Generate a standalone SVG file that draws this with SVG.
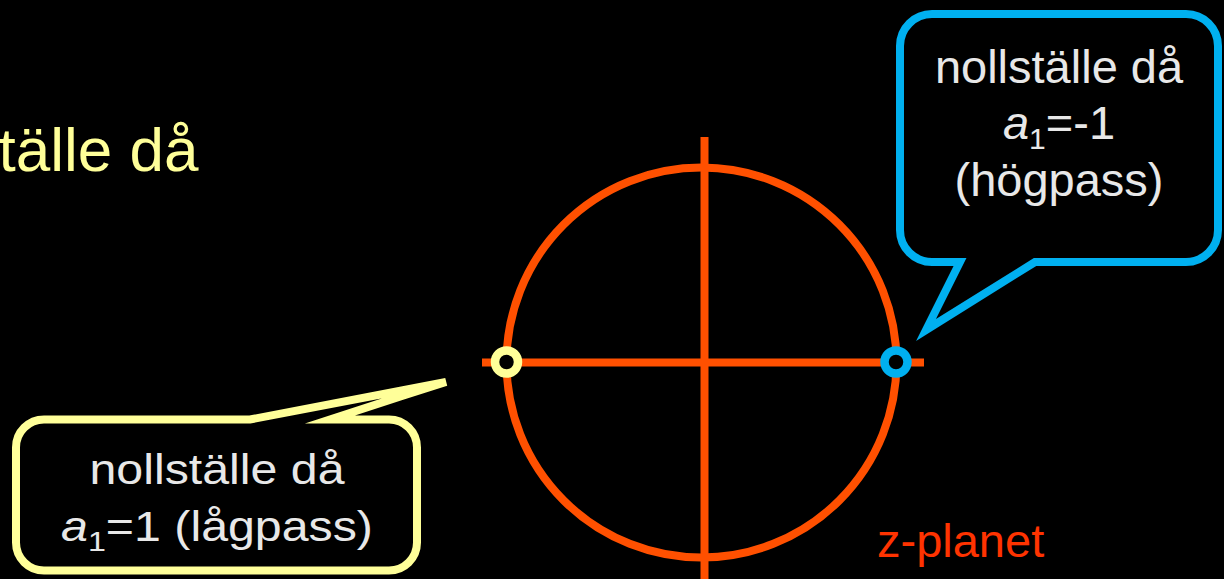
<svg xmlns="http://www.w3.org/2000/svg" width="1224" height="579" viewBox="0 0 1224 579">
<style>
.t{font-family:"Liberation Sans",Arial,sans-serif}
.ax{stroke:#FF5000;stroke-width:8;fill:none}
.bt{fill:#E8E8E8;text-anchor:middle}
.yb{fill:#000;stroke:#FFFF99;stroke-width:8;stroke-linejoin:miter;stroke-miterlimit:10}
.bb{fill:#000;stroke:#00B0F0;stroke-width:8;stroke-linejoin:miter;stroke-miterlimit:10}
</style>
<rect width="1224" height="579" fill="#000"/>
<g id="title">
<text class="t" x="198.5" y="171" font-size="62" fill="#FFFF99" text-anchor="end">tälle då</text>
</g>
<g id="zplane">
<line class="ax" x1="704.5" y1="137" x2="704.5" y2="579"/>
<line class="ax" x1="482" y1="362.5" x2="924" y2="362.5"/>
<circle class="ax" cx="701.5" cy="362.5" r="195"/>
</g>
<g id="zero-lowpass">
<circle cx="506.5" cy="362" r="11.5" fill="#000" stroke="#FFFF99" stroke-width="8.5"/>
</g>
<g id="zero-highpass">
<circle cx="896" cy="362" r="11.5" fill="#000" stroke="#00B0F0" stroke-width="8.5"/>
</g>
<g id="callout-lowpass">
<path class="yb" d="M44,419.5 L250,419.5 L446,382 L402,396 L330,419.5 L389,419.5 A28 28 0 0 1 417,447.5 L417,542.5 A28 28 0 0 1 389,570.5 L44,570.5 A28 28 0 0 1 16,542.5 L16,447.5 A28 28 0 0 1 44,419.5 Z"/>
<g transform="translate(217,0) scale(1.15,1)">
<text class="t bt" x="0" y="484" font-size="42">nollställe då</text>
<text class="t bt" x="0" y="541" font-size="42"><tspan font-style="italic">a</tspan><tspan font-size="28" dy="10">1</tspan><tspan dy="-10">=1 (lågpass)</tspan></text>
</g>
</g>
<g id="callout-highpass">
<path class="bb" d="M932,14 L1186,14 A32 32 0 0 1 1218,46 L1218,230 A32 32 0 0 1 1186,262 L1035,262 L926,330 L960,262 L932,262 A32 32 0 0 1 900,230 L900,46 A32 32 0 0 1 932,14 Z"/>
<text class="t bt" x="1059" y="83" font-size="47">nollställe då</text>
<text class="t bt" x="1059" y="139" font-size="47"><tspan font-style="italic">a</tspan><tspan font-size="30" dy="10">1</tspan><tspan dy="-10">=-1</tspan></text>
<text class="t bt" x="1059" y="196" font-size="47">(högpass)</text>
</g>
<g id="label">
<text class="t" x="877" y="557" font-size="47" fill="#FF3300">z-planet</text>
</g>
</svg>
